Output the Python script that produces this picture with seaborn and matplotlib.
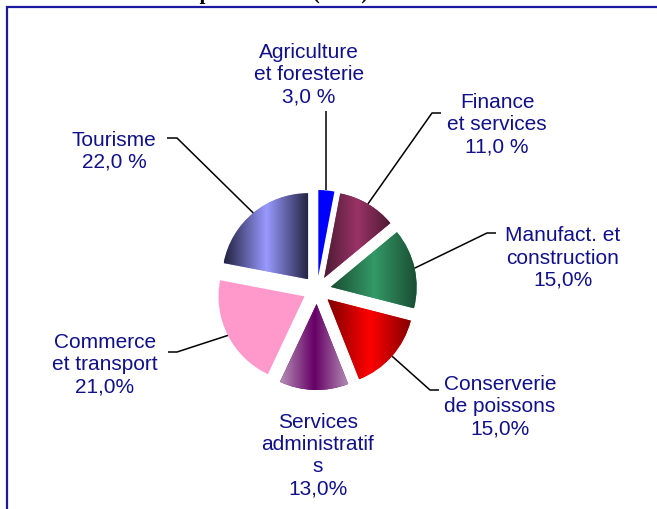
import numpy as np
import matplotlib
matplotlib.use('Agg')
import matplotlib.pyplot as plt
import matplotlib.patches as mpatches
import seaborn as sns

# ── data ────────────────────────────────────────────────
sectors = ['Agriculture\net foresterie', 'Finance\net services',
           'Manufact. et\nconstruction', 'Conserverie\nde poissons',
           'Services\nadministratif\ns', 'Commerce\net transport', 'Tourisme']
shares = [3.0, 11.0, 15.0, 15.0, 13.0, 21.0, 22.0]
pct_labels = ['3,0 %', '11,0 %', '15,0%', '15,0%', '13,0%', '21,0%', '22,0 %']

# centre colour / edge colour of the horizontal gradient of each slice
mid_colors = ['#0000FF', '#993366', '#339966', '#FF0000', '#660066', '#FF99CC', '#9999FF']
edge_colors = ['#0000FF', '#4D1A33', '#1A4D33', '#800000', '#B590B5', '#FF99CC', '#22223F']

# ── layout (pixel coords, y from top) ───────────────────
W, H = 657, 510
label_pos = [(309, 75), (497, 125), (563, 258), (500, 407),
             (318, 456), (105, 365), (114, 151)]
# elbow / end point of each leader line (None = no leader)
leaders = [[(None, 112)], [(432, 114), (441, 114)], [(487, 234), (496, 234)],
           [(430, 391), (439, 391)], None, [(177, 353), (168, 353)],
           [(177, 139), (167, 139)]]
text_color = '#10108A'

sns.set_theme(style='white')
plt.rcParams['font.family'] = ['Liberation Sans', 'DejaVu Sans']


def px(x, y):
    return x, H - y


fig = plt.figure(figsize=(W / 100, H / 100), dpi=100)
ax = fig.add_axes([0, 0, 1, 1])

wedges, _ = ax.pie(shares, center=px(317, 291), radius=86,
                   explode=[14] * len(shares), startangle=90,
                   counterclock=False, colors=mid_colors,
                   wedgeprops=dict(linewidth=0))

for w, c_mid, c_edge in zip(wedges, mid_colors, edge_colors):
    if c_mid == c_edge:
        continue
    cmap = sns.blend_palette([c_edge, c_mid, c_edge], n_colors=256, as_cmap=True)
    bb = w.get_path().get_extents()
    grad = np.linspace(0, 1, 256).reshape(1, -1)
    im = ax.imshow(grad, cmap=cmap, extent=(bb.x0, bb.x1, bb.y0, bb.y1),
                   origin='lower', aspect='auto', interpolation='bilinear', zorder=2)
    im.set_clip_path(w)

# labels + leader lines
for w, name, pct, pos, lead in zip(wedges, sectors, pct_labels, label_pos, leaders):
    ax.text(*px(*pos), name + '\n' + pct, ha='center', va='center',
            multialignment='center', fontsize=15, color=text_color,
            linespacing=1.2, zorder=4)
    if lead is None:
        continue
    thm = np.deg2rad((w.theta1 + w.theta2) / 2)
    ax0 = w.center[0] + w.r * np.cos(thm)
    ay0 = w.center[1] + w.r * np.sin(thm)
    xs, ys = [ax0], [ay0]
    for (lx, ly) in lead:
        lx = ax0 if lx is None else lx
        xs.append(lx)
        ys.append(H - ly)
    ax.plot(xs, ys, color='black', lw=1.1, zorder=3, solid_capstyle='butt')

# outer frame (runs off the right and bottom edge)
ax.add_patch(mpatches.Rectangle((6.5, -30), 720, H - 7.5 + 30, fill=False,
                                edgecolor='#1A1AA0', lw=1.6, zorder=5))

ax.set_xlim(0, W)
ax.set_ylim(0, H)
ax.set_aspect('equal')
ax.axis('off')

# title, mostly cut off by the top edge
fig.text(142 / W, 1 + 0.5 / H, 'Actifs par secteurs (2005)', ha='left',
         va='baseline', fontsize=15, fontweight='bold',
         family=['Liberation Serif', 'DejaVu Serif'], color='black')

fig.savefig('out.png', dpi=100)
